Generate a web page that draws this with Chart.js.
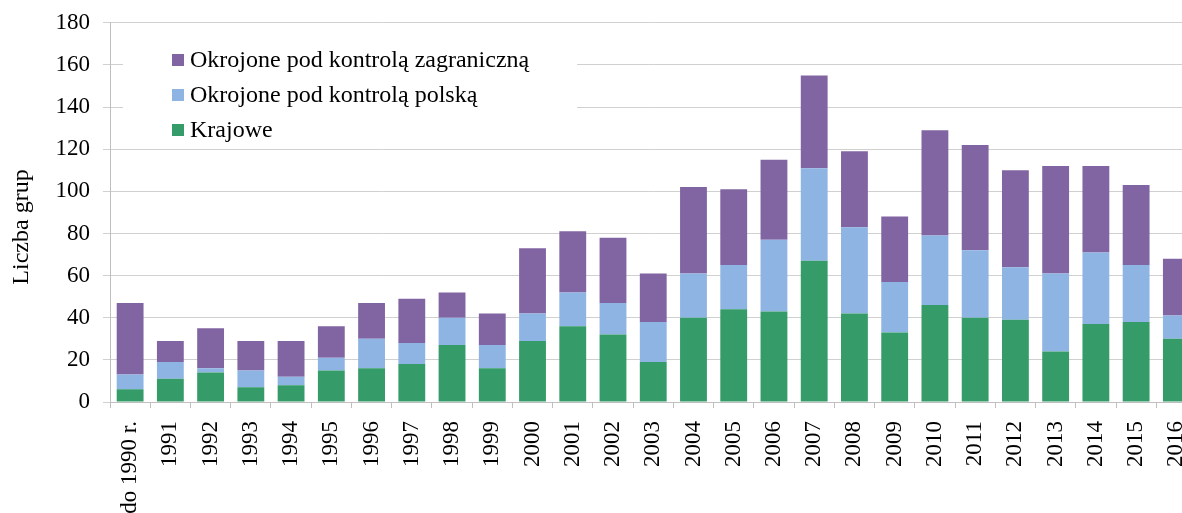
<!DOCTYPE html>
<html>
<head>
<meta charset="utf-8">
<script src="https://cdn.jsdelivr.net/npm/chart.js@4.4.1/dist/chart.umd.min.js"></script>
<style>
  html, body { margin: 0; padding: 0; background: #fff; overflow: hidden; }
  #wrap { width: 1217px; height: 513px; }
</style>
</head>
<body>
<div id="wrap"><canvas id="barChart"></canvas></div>
<script>
const lata = ["do 1990 r.", "1991", "1992", "1993", "1994", "1995", "1996", "1997", "1998", "1999",
  "2000", "2001", "2002", "2003", "2004", "2005", "2006", "2007", "2008", "2009",
  "2010", "2011", "2012", "2013", "2014", "2015", "2016"];
const krajowe = [6, 11, 14, 7, 8, 15, 16, 18, 27, 16, 29, 36, 32, 19, 40, 44, 43, 67, 42, 33, 46, 40, 39, 24, 37, 38, 30];
const polska = [7, 8, 2, 8, 4, 6, 14, 10, 13, 11, 13, 16, 15, 19, 21, 21, 34, 44, 41, 24, 33, 32, 25, 37, 34, 27, 11];
const zagraniczna = [34, 10, 19, 14, 17, 15, 17, 21, 12, 15, 31, 29, 31, 23, 41, 36, 38, 44, 36, 31, 50, 50, 46, 51, 41, 38, 27];
const yTicks = { min: 0, max: 180, step: 20 };
const tytulOsiY = "Liczba grup";

const serif = "'Liberation Serif', 'Times New Roman', serif";

// legenda wewnatrz wykresu, z biala podkladka
const legendaWewnatrz = {
  id: "legendaWewnatrz",
  beforeDatasetsDraw(chart) {
    const ctx = chart.ctx;
    const area = chart.chartArea;
    const items = chart.data.datasets.slice().reverse();
    ctx.save();
    ctx.fillStyle = "#ffffff";
    ctx.fillRect(area.left + 13, 36, 454, 100);
    ctx.font = "24px " + serif;
    ctx.textBaseline = "middle";
    items.forEach((ds, i) => {
      const y = 60 + i * 35;
      ctx.fillStyle = ds.backgroundColor;
      ctx.fillRect(area.left + 62, y - 6, 12, 12);
      ctx.fillStyle = "#000000";
      ctx.fillText(ds.label, area.left + 80, y + 1);
    });
    ctx.restore();
  },
};

// tytul osi Y (obrocony), troche ponizej srodka jak w oryginale
const tytulY = {
  id: "tytulY",
  afterDraw(chart) {
    const ctx = chart.ctx;
    ctx.save();
    ctx.translate(22, 227);
    ctx.rotate(-Math.PI / 2);
    ctx.font = "24px " + serif;
    ctx.fillStyle = "#000000";
    ctx.textAlign = "center";
    ctx.textBaseline = "middle";
    ctx.fillText(tytulOsiY, 0, 0);
    ctx.restore();
  },
};

const barChart = document.querySelector("#barChart");
const graph = new Chart(barChart, {
  type: "bar",
  data: {
    labels: lata,
    datasets: [
      {
        label: "Krajowe",
        data: krajowe,
        backgroundColor: "#359b68",
      },
      {
        label: "Okrojone pod kontrolą polską",
        data: polska,
        backgroundColor: "#8eb4e3",
      },
      {
        label: "Okrojone pod kontrolą zagraniczną",
        data: zagraniczna,
        backgroundColor: "#8165a2",
      },
    ],
  },
  options: {
    responsive: true,
    maintainAspectRatio: false,
    animation: false,
    datasets: {
      bar: { barPercentage: 0.667, categoryPercentage: 1 },
    },
    layout: { padding: { top: 13, right: 2, bottom: 0, left: 0 } },
    plugins: {
      legend: { display: false },
      tooltip: { enabled: false },
    },
    scales: {
      x: {
        stacked: true,
        afterFit: (scale) => { scale.height = 111; },
        grid: {
          offset: true,
          drawOnChartArea: false,
          drawTicks: true,
          tickLength: 6,
          tickColor: "#bfbfbf",
        },
        border: { display: true, color: "#bfbfbf", width: 1 },
        ticks: {
          minRotation: 90,
          maxRotation: 90,
          autoSkip: false,
          padding: 13,
          color: "#000000",
          font: { family: serif, size: 23 },
        },
      },
      y: {
        stacked: true,
        min: yTicks.min,
        max: yTicks.max,
        afterFit: (scale) => { scale.width = 110; },
        grid: {
          color: "#d0d0d0",
          lineWidth: 1,
          tickLength: 7,
          tickColor: "#d0d0d0",
        },
        border: { display: true, color: "#bfbfbf", width: 1 },
        ticks: {
          stepSize: yTicks.step,
          padding: 13,
          color: "#000000",
          font: { family: serif, size: 23, lineHeight: 0.85 },
        },
      },
    },
  },
  plugins: [legendaWewnatrz, tytulY],
});
</script>
</body>
</html>
